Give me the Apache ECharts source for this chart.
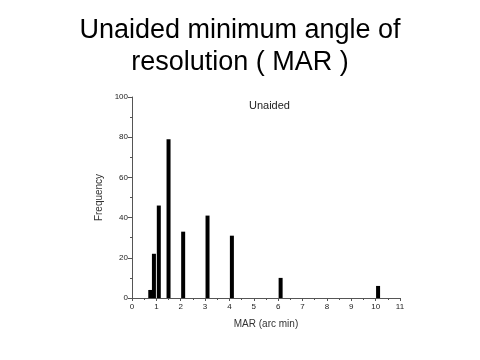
<!DOCTYPE html>
<html><head><meta charset="utf-8">
<script src="https://cdn.jsdelivr.net/npm/echarts@6/dist/echarts.min.js"></script>
<style>html,body{margin:0;padding:0;background:#fff}#c{width:480px;height:360px}</style>
</head><body><div id="c"></div>
<script>
var marValues = [0.75, 0.9, 1.1, 1.5, 2.1, 3.1, 4.1, 6.1, 10.1];
var frequencies = [4, 22, 46, 79, 33, 41, 31, 10, 6];
var titleLines = ['Unaided minimum angle of', 'resolution ( MAR )'];
var panelLabel = 'Unaided';
var xName = 'MAR (arc min)';
var yName = 'Frequency';

var chart = echarts.init(document.getElementById('c'), null, {renderer: 'canvas'});
chart.setOption({
  animation: false,
  backgroundColor: '#fff',
  title: [{
    text: titleLines.join('\n'),
    left: 'center', top: 10,
    textStyle: {fontFamily: 'Liberation Sans', fontSize: 27, fontWeight: 'normal', color: '#000', lineHeight: 32}
  }, {
    text: panelLabel, left: 244, top: 95,
    textStyle: {fontFamily: 'Liberation Sans', fontSize: 11, fontWeight: 'normal', color: '#222'}
  }],
  grid: {left: 132, right: 80, top: 97, bottom: 62},
  xAxis: {
    type: 'value', min: 0, max: 11, interval: 1,
    name: xName, nameLocation: 'middle', nameGap: 21,
    nameTextStyle: {fontFamily: 'Liberation Sans', fontSize: 10, color: '#333'},
    axisLine: {show: true, lineStyle: {color: '#555', width: 1}},
    axisTick: {show: true, length: 3, lineStyle: {color: '#555'}},
    minorTick: {show: true, splitNumber: 2, length: 2, lineStyle: {color: '#555'}},
    axisLabel: {fontFamily: 'Liberation Sans', fontSize: 8, color: '#222', margin: 5},
    splitLine: {show: false}
  },
  yAxis: {
    type: 'value', min: 0, max: 100, interval: 20,
    name: yName, nameLocation: 'middle', nameGap: 21,
    nameTextStyle: {fontFamily: 'Liberation Sans', fontSize: 10, color: '#333'},
    axisLine: {show: true, lineStyle: {color: '#555', width: 1}},
    axisTick: {show: true, length: 4, lineStyle: {color: '#555'}},
    minorTick: {show: true, splitNumber: 2, length: 2, lineStyle: {color: '#555'}},
    axisLabel: {fontFamily: 'Liberation Sans', fontSize: 8, color: '#222', margin: 4},
    splitLine: {show: false}
  },
  series: [{
    type: 'bar',
    barWidth: 4,
    itemStyle: {color: '#000'},
    data: marValues.map(function (x, i) { return [x, frequencies[i]]; })
  }]
});
</script>
</body></html>
